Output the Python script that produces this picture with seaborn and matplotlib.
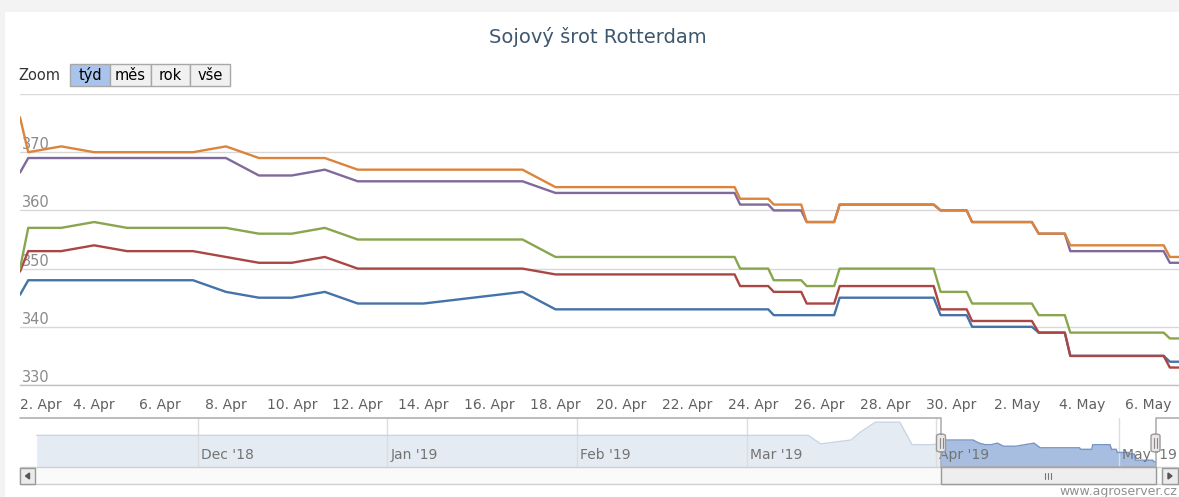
import matplotlib
matplotlib.use('Agg')
import matplotlib.pyplot as plt
import matplotlib.dates as mdates
from matplotlib.patches import Rectangle, Polygon, FancyBboxPatch
from matplotlib.lines import Line2D
from matplotlib.transforms import ScaledTranslation
import seaborn as sns
import pandas as pd

W, H = 1179, 497

# --- data ---------------------------------------------------------------
times = ['2019-04-01 18:00', '2019-04-02', '2019-04-03', '2019-04-04', '2019-04-05',
         '2019-04-06', '2019-04-07', '2019-04-08', '2019-04-09', '2019-04-10',
         '2019-04-11', '2019-04-12', '2019-04-14', '2019-04-17', '2019-04-18',
         '2019-04-23 10:30', '2019-04-23 14:30', '2019-04-24 11:00', '2019-04-24 15:00',
         '2019-04-25 11:00', '2019-04-25 15:00', '2019-04-26 11:00', '2019-04-26 15:00',
         '2019-04-29 11:30', '2019-04-29 16:30', '2019-04-30 11:30', '2019-04-30 15:30',
         '2019-05-02 11:00', '2019-05-02 16:00', '2019-05-03 11:00', '2019-05-03 15:00',
         '2019-05-06 11:00', '2019-05-06 15:30', '2019-05-06 22:00']

blue = [345.5, 348, 348, 348, 348, 348, 348, 346, 345, 345, 346, 344, 344, 346, 343,
        343, 343, 343, 342, 342, 342, 342, 345, 345, 342, 342, 340, 340, 339, 339,
        335, 335, 334, 334]
red = [349.5, 353, 353, 354, 353, 353, 353, 352, 351, 351, 352, 350, 350, 350, 349,
       349, 347, 347, 346, 346, 344, 344, 347, 347, 343, 343, 341, 341, 339, 339,
       335, 335, 333, 333]
green = [350, 357, 357, 358, 357, 357, 357, 357, 356, 356, 357, 355, 355, 355, 352,
         352, 350, 350, 348, 348, 347, 347, 350, 350, 346, 346, 344, 344, 342, 342,
         339, 339, 338, 338]
purple = [366.5, 369, 369, 369, 369, 369, 369, 369, 366, 366, 367, 365, 365, 365, 363,
          363, 361, 361, 360, 360, 358, 358, 361, 361, 360, 360, 358, 358, 356, 356,
          353, 353, 351, 351]
orange = [376, 370, 371, 370, 370, 370, 370, 371, 369, 369, 369, 367, 367, 367, 364,
          364, 362, 362, 361, 361, 358, 358, 361, 361, 360, 360, 358, 358, 356, 356,
          354, 354, 352, 352]

series_names = ['řada 1', 'řada 2', 'řada 3', 'řada 4', 'řada 5']
series_colors = ['#4572A7', '#AA4643', '#89A54E', '#80699B', '#DB843D']

# navigator history (first series, before the selected range)
nav_hist_dates = ['2018-11-04 12:00', '2019-03-11', '2019-03-13', '2019-03-18',
                  '2019-03-19 12:00', '2019-03-22', '2019-03-26', '2019-03-28', '2019-03-31']
nav_hist_vals = [351, 351, 345.5, 348, 353, 359.5, 359.5, 345, 345]

nav_months = ['2018-12-01', '2019-01-01', '2019-02-01', '2019-03-01', '2019-04-01', '2019-05-01']
nav_month_labels = ["Dec '18", "Jan '19", "Feb '19", "Mar '19", "Apr '19", "May '19"]

zoom_buttons = ['týd', 'měs', 'rok', 'vše']


def fx(x):
    return x / W


def fy(y):
    return 1 - y / H


def px_rect(x0, y0, x1, y1, **kw):
    r = Rectangle((fx(x0), fy(y1)), fx(x1) - fx(x0), fy(y0) - fy(y1),
                  transform=fig.transFigure, **kw)
    fig.add_artist(r)
    return r


sns.set_style('white')
plt.rcParams['font.family'] = ['DejaVu Sans']

fig = plt.figure(figsize=(W / 100, H / 100), dpi=100, facecolor='#F3F3F3')
px_rect(5, 12, W, H, facecolor='white', edgecolor='none', zorder=0)

# --- main chart ------------------------------------------------------------
ax = fig.add_axes([fx(20), fy(385), fx(1179) - fx(20), fy(94) - fy(385)])
ax.set_facecolor('none')

t = pd.to_datetime(times, format='mixed')
df = pd.DataFrame({
    'datum': list(t) * 5,
    'cena': blue + red + green + purple + orange,
    'rada': sum([[n] * len(t) for n in series_names], []),
})
sns.lineplot(data=df, x='datum', y='cena', hue='rada', hue_order=series_names,
             palette=series_colors, linewidth=1.7, legend=False, estimator=None,
             ax=ax, zorder=3)

ax.set_xlim(pd.Timestamp('2019-04-01 18:00'), pd.Timestamp('2019-05-06 22:10'))
ax.set_ylim(330, 380)
ax.set_yticks(range(330, 381, 10))
ax.tick_params(axis='y', left=False, labelleft=False)
ax.grid(axis='y', color='#D8D8D8', linewidth=1)
ax.grid(axis='x', visible=False)
ax.set_axisbelow(True)
for sp in ['top', 'left', 'right']:
    ax.spines[sp].set_visible(False)
ax.spines['bottom'].set_color('#C0C0C0')
ax.spines['bottom'].set_linewidth(1)

xt = pd.date_range('2019-04-02', '2019-05-06', freq='2D')
ax.set_xticks(mdates.date2num(xt.to_pydatetime()))
ax.set_xticklabels([f'{d.day}. {d.strftime("%b")}' for d in xt])
ax.tick_params(axis='x', length=5, color='#C0D0E0', labelsize=10, labelcolor='#606060', pad=4)
first = ax.get_xticklabels()[0]
first.set_horizontalalignment('left')
first.set_transform(first.get_transform() + ScaledTranslation(-0.08, 0, fig.dpi_scale_trans))
ax.set_xlabel('')
ax.set_ylabel('')

for v in range(330, 371, 10):
    ax.annotate(str(v), xy=(0, v), xycoords=('axes fraction', 'data'), xytext=(2, 3),
                textcoords='offset pixels', ha='left', va='baseline', fontsize=10.5,
                color='#8A8A8A', zorder=1)

# --- title and zoom buttons -----------------------------------------------
fig.text(fx(598), fy(37), 'Sojový šrot Rotterdam', ha='center', va='center',
         fontsize=14, color='#3E576F')
fig.text(fx(18), fy(75), 'Zoom', ha='left', va='center', fontsize=10.5, color='#333333')
bx = [70, 110, 151, 190, 230]
for i, lab in enumerate(zoom_buttons):
    sel = i == 0
    px_rect(bx[i], 64, bx[i + 1], 86, facecolor='#A9C4EC' if sel else '#F1F1F1',
            edgecolor='#A8A8A8', linewidth=1, zorder=2)
    fig.text(fx((bx[i] + bx[i + 1]) / 2), fy(75), lab, ha='center', va='center',
             fontsize=10.5, color='#000000', zorder=3)

# --- navigator -------------------------------------------------------------
NAV_L, NAV_R, NAV_T, NAV_B = 20, 1172, 418, 467
px_day = 6.1
sel_start, sel_end = t[0], t[-1]
nav_x0 = sel_start - pd.Timedelta(days=(941 - NAV_L) / px_day)
nav_x1 = nav_x0 + pd.Timedelta(days=(NAV_R - NAV_L) / px_day)

ax_nav = fig.add_axes([fx(NAV_L), fy(NAV_B), fx(NAV_R) - fx(NAV_L), fy(NAV_T) - fy(NAV_B)])
ax_nav.set_facecolor('white')
ax_nav.set_xlim(nav_x0, nav_x1)
nav_lo, nav_hi = 330.6, 362.2
ax_nav.set_ylim(nav_lo, nav_hi)
ax_nav.axis('off')

hist_t = pd.to_datetime(nav_hist_dates + [times[0]], format='mixed')
hist_v = nav_hist_vals + [blue[0]]

ax_nav.fill_between(hist_t, hist_v, nav_lo, color='#E5EBF3', lw=0, zorder=1)
sns.lineplot(x=hist_t, y=hist_v, color='#CAD5E4', linewidth=1, ax=ax_nav, zorder=2)
ax_nav.fill_between(t, blue, nav_lo, color='#A7BEE0', lw=0, zorder=1)
sns.lineplot(x=t, y=blue, color='#7795C6', linewidth=1, ax=ax_nav, zorder=2)

for m, lab in zip(pd.to_datetime(nav_months), nav_month_labels):
    ax_nav.axvline(m, color='#DDDDDD', linewidth=1, zorder=1.5)
    ax_nav.annotate(lab, xy=(m, 0), xycoords=('data', 'axes fraction'), xytext=(3, 5),
                    textcoords='offset pixels', ha='left', va='bottom', fontsize=10,
                    color='#737373', zorder=4, annotation_clip=False)


def nav_px(ts):
    return ax_nav.transData.transform((mdates.date2num(ts), 0))[0]


fig.canvas.draw()
xl = nav_px(sel_start)
xr = nav_px(sel_end)
outline = Line2D([fx(NAV_L), fx(xl), fx(xl), fx(xr), fx(xr), fx(W)],
                 [fy(NAV_T), fy(NAV_T), fy(NAV_B), fy(NAV_B), fy(NAV_T), fy(NAV_T)],
                 transform=fig.transFigure, color='#A9A8AD', linewidth=1.1, zorder=5)
fig.add_artist(outline)
for hx in (xl, xr):
    hb = FancyBboxPatch((fx(hx - 4.5), fy(452)), fx(9), fy(434) - fy(452),
                        boxstyle='round,pad=0,rounding_size=0.004',
                        transform=fig.transFigure, facecolor='#EBE7E8',
                        edgecolor='#9A9A9A', linewidth=1, zorder=6)
    fig.add_artist(hb)
    for d in (-1.5, 1.5):
        fig.add_artist(Line2D([fx(hx + d), fx(hx + d)], [fy(438), fy(448)],
                              transform=fig.transFigure, color='#888888', lw=0.8, zorder=7))

# --- scrollbar -------------------------------------------------------------
px_rect(NAV_L, NAV_B, W, 484, facecolor='#FAFAFA', edgecolor='#D0D0D0', linewidth=1, zorder=2)
px_rect(20, 468, 35, 484, facecolor='#EBEBEB', edgecolor='#999999', linewidth=1, zorder=3)
px_rect(1162, 468, 1178, 484, facecolor='#EBEBEB', edgecolor='#999999', linewidth=1, zorder=3)
fig.add_artist(Polygon([(fx(29.5), fy(473)), (fx(29.5), fy(479)), (fx(25.5), fy(476))],
                       closed=True, transform=fig.transFigure, color='#555555', zorder=4))
fig.add_artist(Polygon([(fx(1168), fy(473)), (fx(1168), fy(479)), (fx(1172), fy(476))],
                       closed=True, transform=fig.transFigure, color='#555555', zorder=4))
px_rect(xl, NAV_B, xr, 484, facecolor='#EEEEEE', edgecolor='#999999', linewidth=1, zorder=3)
xc = (xl + xr) / 2
for d in (-3, 0, 3):
    fig.add_artist(Line2D([fx(xc + d), fx(xc + d)], [fy(472.5), fy(478.5)],
                          transform=fig.transFigure, color='#777777', lw=0.8, zorder=4))

fig.text(fx(1177), fy(492), 'www.agroserver.cz', ha='right', va='center',
         fontsize=9, color='#909090')

fig.savefig('out.png', dpi=100, facecolor=fig.get_facecolor())
